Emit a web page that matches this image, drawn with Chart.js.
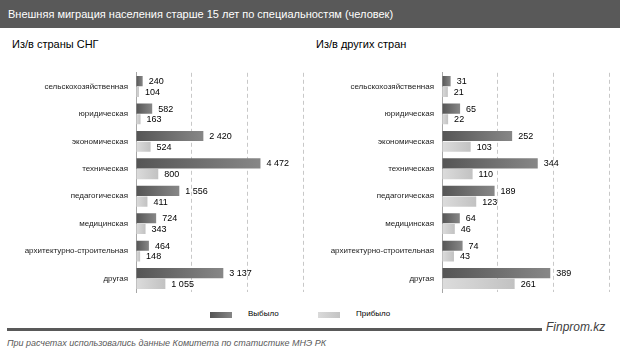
<!DOCTYPE html>
<html><head><meta charset="utf-8">
<script src="https://cdn.jsdelivr.net/npm/chart.js@4"></script>
<style>
html,body{margin:0;padding:0;background:#fff;width:620px;height:355px;overflow:hidden;font-family:"Liberation Sans",Arial,sans-serif;}
#title{position:absolute;left:0;top:0;width:620px;height:28px;background:#595959;color:#fff;font-size:11px;line-height:28px;padding-left:8px;box-sizing:border-box;}
.sub{position:absolute;top:38px;font-size:11px;color:#000;}
.cw{position:absolute;top:60px;width:310px;height:245px;}
.sw{position:absolute;top:312px;width:22px;height:6px;}
.lt{position:absolute;top:309px;font-size:8px;color:#000;}
#rule{position:absolute;left:7px;top:328px;width:535px;height:3px;background:#595959;}
#brand{position:absolute;left:546px;top:320px;font-size:12px;font-style:italic;color:#404040;}
#foot{position:absolute;left:7px;top:338px;font-size:9px;font-style:italic;color:#595959;}
</style></head><body>
<div id="title">Внешняя миграция населения старше 15 лет по специальностям (человек)</div>
<div class="sub" style="left:12px">Из/в страны СНГ</div>
<div class="sub" style="left:316px">Из/в других стран</div>
<div class="cw" style="left:0"><canvas id="c1" width="310" height="245"></canvas></div>
<div class="cw" style="left:310px"><canvas id="c2" width="310" height="245"></canvas></div>
<div class="sw" style="left:210px;background:linear-gradient(to right,#555,#858585)"></div>
<div class="lt" style="left:248px">Выбыло</div>
<div class="sw" style="left:318px;background:linear-gradient(to right,#dadada,#c4c4c4)"></div>
<div class="lt" style="left:356px">Прибыло</div>
<div id="rule"></div>
<div id="brand">Finprom.kz</div>
<div id="foot">При расчетах использовались данные Комитета по статистике МНЭ РК</div>
<script>
const categories = ["сельскохозяйственная","юридическая","экономическая","техническая","педагогическая","медицинская","архитектурно-строительная","другая"];
const seriesNames = ["Выбыло","Прибыло"];
const cisLeft = [240, 582, 2420, 4472, 1556, 724, 464, 3137];
const cisArrived = [104, 163, 524, 800, 411, 343, 148, 1055];
const otherLeft = [31, 65, 252, 344, 189, 64, 74, 389];
const otherArrived = [21, 22, 103, 110, 123, 46, 43, 261];
const cisTicks = {max: 6000, step: 2000};
const otherTicks = {max: 600, step: 200};

const FONT = '"Liberation Sans", Arial, sans-serif';
function fmt(v){ return String(v).replace(/\B(?=(\d{3})+(?!\d))/g, ' '); }

function grad(colors){
  return function(ctx){
    const chart = ctx.chart;
    const xs = chart.scales.x;
    if(!xs || ctx.raw === undefined) return colors[1];
    const x0 = xs.getPixelForValue(0), x1 = xs.getPixelForValue(ctx.raw);
    if(!isFinite(x0) || !isFinite(x1) || x1 - x0 < 1) return colors[0];
    const g = chart.ctx.createLinearGradient(x0, 0, x1, 0);
    g.addColorStop(0, colors[0]); g.addColorStop(1, colors[1]);
    return g;
  };
}

const labelPlugin = {
  id: 'vlabels',
  afterDatasetsDraw(chart){
    const c = chart.ctx;
    c.save();
    c.font = '9px ' + FONT;
    c.fillStyle = '#000';
    c.textBaseline = 'middle';
    c.textAlign = 'left';
    chart.data.datasets.forEach((ds, i) => {
      chart.getDatasetMeta(i).data.forEach((bar, j) => {
        c.fillText(fmt(ds.data[j]), bar.x + 6, bar.y + 0.5);
      });
    });
    c.restore();
  }
};

function make(id, leftData, arrData, ticks, axisW, padR){
  new Chart(document.getElementById(id), {
    type: 'bar',
    data: {
      labels: categories,
      datasets: [
        {label: seriesNames[0], data: leftData, backgroundColor: grad(['#555555','#878787']), categoryPercentage: 0.78, barPercentage: 0.95},
        {label: seriesNames[1], data: arrData, backgroundColor: grad(['#dcdcdc','#c2c2c2']), categoryPercentage: 0.78, barPercentage: 0.95}
      ]
    },
    options: {
      indexAxis: 'y',
      responsive: false,
      animation: false,
      layout: {padding: {top: 7, bottom: 5, left: 0, right: padR}},
      plugins: {legend: {display: false}, tooltip: {enabled: false}},
      scales: {
        x: {
          min: 0, max: ticks.max,
          ticks: {display: false, stepSize: ticks.step},
          border: {display: false, dash: [4, 3]},
          grid: {drawTicks: false, color: (c) => c.tick && c.tick.value === 0 ? 'rgba(0,0,0,0)' : '#c8c8c8', lineWidth: 1}
        },
        y: {
          afterFit: (s) => { s.width = axisW; },
          grid: {display: false, drawTicks: false},
          border: {display: true, color: '#a6a6a6', width: 1},
          ticks: {font: {size: 8, family: FONT}, color: '#222', padding: 8, autoSkip: false}
        }
      }
    },
    plugins: [labelPlugin]
  });
}
make('c1', cisLeft, cisArrived, cisTicks, 136, 7);
make('c2', otherLeft, otherArrived, otherTicks, 132, 11);
</script>
</body></html>
